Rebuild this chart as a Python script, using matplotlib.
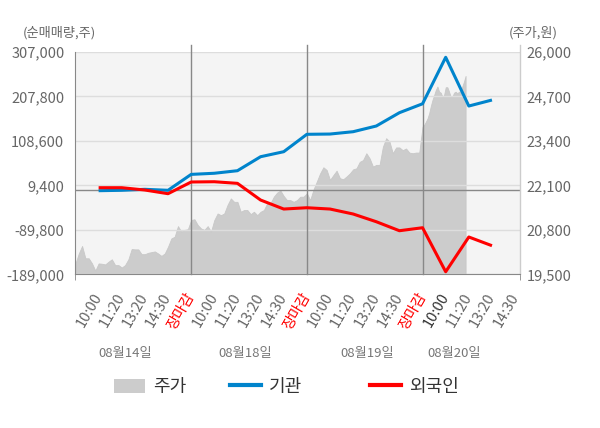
import numpy as np
import matplotlib
matplotlib.use('Agg')
import matplotlib.pyplot as plt
import matplotlib.transforms as mtransforms
from matplotlib.patches import Patch
from matplotlib.lines import Line2D

plt.rcParams['font.family'] = ['Noto Sans CJK KR', 'DejaVu Sans']

# net buying (shares) at the labelled times, 4 sessions (last one partial)
inst = [-2400, -1500, 700, -1500, 34000,
        36500, 42200, 73400, 84600, 123400,
        124000, 129200, 141900, 171600, 191500,
        295200, 186500, 199900]
foreign = [4300, 4300, -900, -9100, 17000,
           17600, 14000, -23200, -43300, -40400,
           -43300, -54400, -71600, -91700, -85000,
           -183200, -105700, -125100]

price_d1 = [19820, 20110, 20330, 19970, 19970, 19820, 19610, 19820, 19810, 19790,
            19870, 19940, 19770, 19770, 19700, 19770, 19940, 20240, 20230, 20230,
            20090, 20090, 20130, 20150, 20170, 20110, 20040, 20110, 20310, 20550,
            20600, 20910, 20750, 20800, 20820]
price_d2 = [21090, 21110, 20940, 20840, 20800, 20910, 20750, 21090, 21280, 21230,
            21280, 21530, 21720, 21620, 21620, 21330, 21380, 21380, 21260, 21330,
            21230, 21330, 21380, 21580, 21580, 21770, 21890, 21950, 21790, 21670,
            21670, 21620, 21670, 21770, 21770]
price_d3 = [21870, 21670, 21980, 22210, 22450, 22630, 22550, 22260, 22400, 22530,
            22310, 22280, 22360, 22450, 22570, 22600, 22790, 22840, 23040, 22890,
            22650, 22700, 22700, 23230, 23480, 23380, 23040, 23210, 23210, 23130,
            23180, 23060, 23040, 23060, 23060]
price_d4 = [23820, 23870, 23960, 24060, 24210, 24420, 24600, 24740, 24890, 24990,
            24840, 24810, 24690, 24740, 24970, 24970, 24840, 24690, 24690, 24810,
            24840, 24790, 24840, 24840, 24990, 25130, 25300]

dates = ['08월14일', '08월18일', '08월19일', '08월20일']
times = ['10:00', '11:20', '13:20', '14:30', '장마감']
left_ticks = [307000, 207800, 108600, 9400, -89800, -189000]
right_ticks = [26000, 24700, 23400, 22100, 20800, 19500]

# layout
day_end_last = 0.372      # how far into the last session the price goes
x_max = 3.842
date_x = [0.43, 1.47, 2.52, 3.27]

# x positions: each session is one unit wide, labels every 0.2
tick_x = []
tick_lab = []
for d in range(4):
    n = 5 if d < 3 else 4
    for k in range(n):
        tick_x.append(d + 0.2 * (k + 1))
        tick_lab.append(times[k])
flow_x = tick_x[:len(inst)]

px = []
pv = []
for d, p in enumerate([price_d1, price_d2, price_d3, price_d4]):
    if d < 3:
        xs = np.linspace(d, d + 1, len(p), endpoint=False)
    else:
        xs = np.linspace(d, d + day_end_last, len(p))
    px.extend(xs)
    pv.extend(p)

fig = plt.figure(figsize=(6, 4.28), dpi=100)
ax = fig.add_axes([0.1258, 0.359, 0.7408, 0.5195])
ax2 = ax.twinx()
ax.set_zorder(2)
ax.patch.set_visible(False)
ax2.patch.set_visible(True)
ax2.patch.set_facecolor('#f4f4f4')

ax2.fill_between(px, 19500, pv, color='#cccccc', lw=0.6, edgecolor='#c8c8c8')
ax2.set_ylim(19500, 26000)
ax2.set_yticks(right_ticks, [f'{v:,}' for v in right_ticks])
ax2.tick_params(axis='y', length=0, pad=5, labelsize=10.5, labelcolor='#666666')
for s in ax2.spines.values():
    s.set_visible(False)

ax.set_xlim(0, x_max)
ax.set_ylim(-189000, 307000)
ax.set_yticks(left_ticks, [f'{v:,}' for v in left_ticks])
ax.tick_params(axis='y', length=0, pad=8, labelsize=10.5, labelcolor='#666666')
ax.yaxis.grid(True, color='#dddddd', lw=1)
ax.set_axisbelow(True)
ax.axhline(0, color='#888888', lw=1)
for d in [1, 2, 3]:
    ax.axvline(d, ymax=1.032, clip_on=False, color='#888888', lw=1)
ax.axvline(x_max, ymax=1.032, clip_on=False, color='#cccccc', lw=1)

ax.plot(flow_x, inst, color='#0084cc', lw=2.2, solid_capstyle='butt')
ax.plot(flow_x, foreign, color='#ff0000', lw=2.2, solid_capstyle='butt')

ax.set_xticks(tick_x, tick_lab, rotation=60, ha='right', va='center',
              rotation_mode='anchor')
ax.tick_params(axis='x', which='major', length=0, pad=14, labelsize=10.5)
ax.set_xticks([0, 1, 2, 3, x_max], minor=True)
ax.tick_params(axis='x', which='minor', length=4, color='#888888')
for i, t in enumerate(ax.get_xticklabels()):
    if tick_lab[i] == '장마감':
        t.set_color('#ff0000')
    elif i == 15:
        t.set_color('#333333')
    else:
        t.set_color('#666666')

for k in ['top', 'right']:
    ax.spines[k].set_visible(False)
ax.spines['left'].set_color('#888888')
ax.spines['bottom'].set_color('#888888')

tr = mtransforms.blended_transform_factory(ax.transData, fig.transFigure)
for x, lab in zip(date_x, dates):
    ax.text(x, 1 - 354 / 428, lab, transform=tr, ha='center', va='center',
            fontsize=9.5, color='#777777')

fig.text(22.7 / 600, 1 - 33 / 428, '(순매매량,주)', ha='left', va='center',
         fontsize=9.5, color='#666666')
fig.text(509 / 600, 1 - 33 / 428, '(주가,원)', ha='left', va='center',
         fontsize=9.5, color='#666666')

handles = [Patch(facecolor='#cccccc', edgecolor='none'),
           Line2D([], [], color='#0084cc', lw=3),
           Line2D([], [], color='#ff0000', lw=3)]
names = ['주가', '기관', '외국인']
leg_x = [114, 230, 370]
for h, nm, lx in zip(handles, names, leg_x):
    fig.legend([h], [nm], loc='center left', bbox_to_anchor=(lx / 600, 1 - 387 / 428),
               frameon=False, borderpad=0, borderaxespad=0, fontsize=13,
               handlelength=1.72, handletextpad=0.44, handleheight=0.78,
               labelcolor='#333333')

fig.savefig('out.png', dpi=100)
